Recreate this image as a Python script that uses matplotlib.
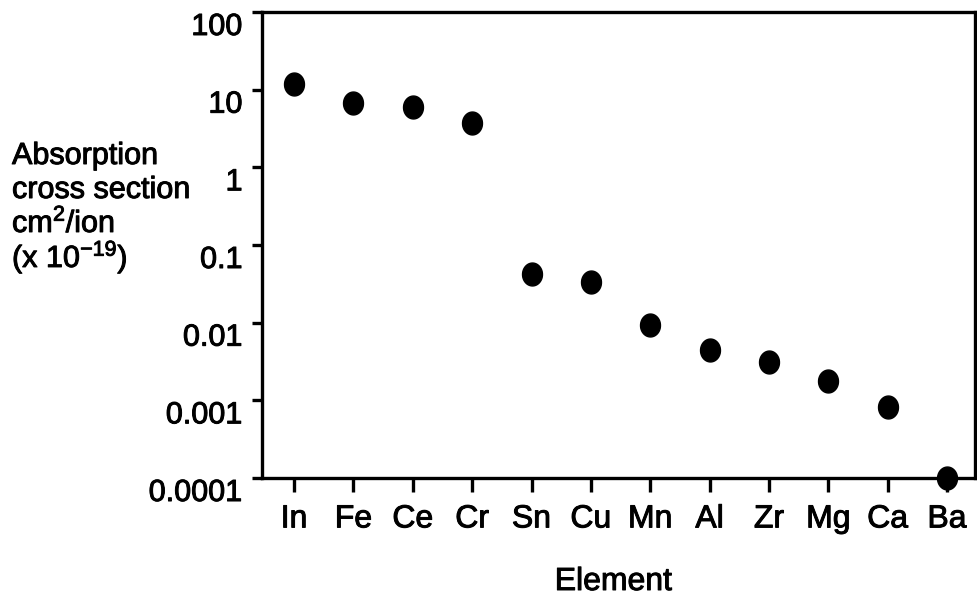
import numpy as np
import matplotlib
matplotlib.use("Agg")
import matplotlib.pyplot as plt
import matplotlib.patheffects as pe

plt.rcParams['font.family'] = ['Liberation Sans', 'DejaVu Sans']
plt.rcParams['mathtext.fontset'] = 'custom'
plt.rcParams['mathtext.rm'] = 'Liberation Sans'
plt.rcParams['mathtext.it'] = 'Liberation Sans:italic'
plt.rcParams['mathtext.bf'] = 'Liberation Sans:bold'

# values
elements = ["In", "Fe", "Ce", "Cr", "Sn", "Cu", "Mn", "Al", "Zr", "Mg", "Ca", "Ba"]
cross_section = [12.0, 6.8, 6.0, 3.7, 0.042, 0.0335, 0.0094, 0.0044, 0.0031, 0.00176, 0.00082, 0.0001]
ytick_vals = [0.0001, 0.001, 0.01, 0.1, 1, 10, 100]
ytick_labels = ["0.0001", "0.001", "0.01", "0.1", "1", "10", "100"]
ylabel_lines = ["Absorption", "cross section", "cm$^{2}$/ion", "(x 10$^{-19}$)"]

thick = [pe.withStroke(linewidth=0.7, foreground='black')]

fig = plt.figure(figsize=(9.78, 5.97), dpi=100)
ax = fig.add_axes([0.2679, 0.1993, 0.729, 0.7806])

# slightly tall dots like the scan
t = np.linspace(0, 2 * np.pi, 60)
dot = np.column_stack([0.87 * np.cos(t), np.sin(t)])

x = np.arange(len(elements))
ax.plot(x, cross_section, marker=dot, color='black', markersize=16.5, linestyle='none',
        clip_on=False, zorder=5)

ax.set_yscale('log')
ax.set_ylim(0.0001, 100)
ax.set_xlim(-0.54, 11.47)
ax.set_yticks(ytick_vals)
ax.set_yticklabels(ytick_labels)
ax.yaxis.set_minor_locator(matplotlib.ticker.NullLocator())
ax.set_xticks(x)
ax.set_xticklabels(elements)

for s in ax.spines.values():
    s.set_linewidth(2.4)
ax.tick_params(axis='y', direction='out', length=7, width=2.4, pad=7, labelsize=22)
ax.tick_params(axis='x', direction='out', length=10, width=2.4, pad=9, labelsize=23)

# y labels hang below their ticks in the original
for lab in ax.get_yticklabels():
    lab.set_verticalalignment('top')
    lab.set_path_effects(thick)
for lab in ax.get_xticklabels():
    lab.set_path_effects(thick)

fig.text(613.5 / 978, 1 - 590 / 597, "Element", fontsize=23, ha='center', va='baseline',
         path_effects=thick)

baselines = [164, 198, 232, 267]
for line, yb in zip(ylabel_lines, baselines):
    fig.text(12 / 978, 1 - yb / 597, line, fontsize=22, ha='left', va='baseline',
             path_effects=thick)

plt.savefig("out.png", dpi=100)
